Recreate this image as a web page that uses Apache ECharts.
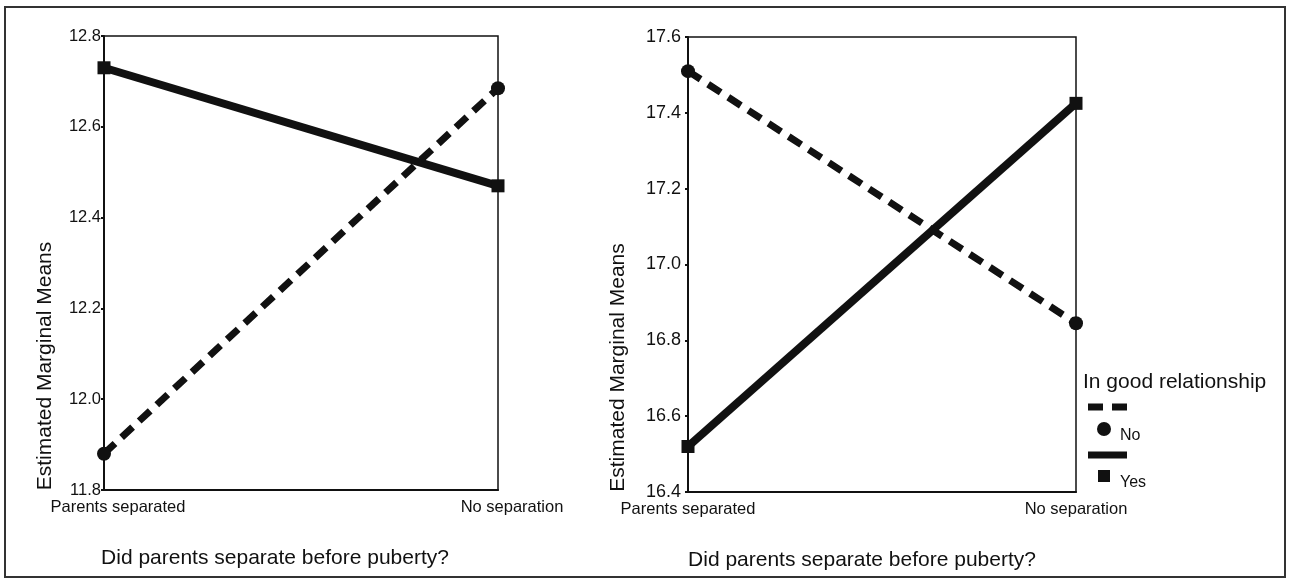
<!DOCTYPE html>
<html>
<head>
<meta charset="utf-8">
<script src="https://cdn.jsdelivr.net/npm/echarts@6/dist/echarts.min.js"></script>
<style>
  html, body { margin: 0; padding: 0; background: #fff; }
  #chart { width: 1290px; height: 580px; }
</style>
</head>
<body>
<div id="chart"></div>
<script>
// data
var categories = ['Parents separated', 'No separation'];
var leftNo = [11.88, 12.685];
var leftYes = [12.73, 12.47];
var rightNo = [17.51, 16.845];
var rightYes = [16.52, 17.425];
var leftRange = [11.8, 12.8];
var rightRange = [16.4, 17.6];
var tickStep = 0.2;
var seriesNames = ['No', 'Yes'];

var font = "'Liberation Sans', Arial, sans-serif";
var ink = '#111';

function xAxisFor(idx, labelPad, namePad) {
    return {
        type: 'category',
        gridIndex: idx,
        data: categories,
        boundaryGap: false,
        axisLine: { lineStyle: { color: ink, width: 2 } },
        axisTick: { show: false },
        axisLabel: { color: ink, fontSize: 16.5, fontFamily: font, margin: 9, padding: labelPad },
        name: 'Did parents separate before puberty?',
        nameLocation: 'middle',
        nameGap: 58,
        nameTextStyle: { color: ink, fontSize: 21, fontFamily: font, padding: namePad }
    }
}

function yAxisFor(idx, range, labelSize, labelMargin, nameGap) {
    return {
        type: 'value',
        gridIndex: idx,
        min: range[0],
        max: range[1],
        interval: tickStep,
        axisLine: { show: true, lineStyle: { color: ink, width: 2 } },
        axisTick: { show: true, length: 3, lineStyle: { color: ink, width: 2 } },
        splitLine: { show: false },
        axisLabel: {
            color: ink, fontSize: labelSize, fontFamily: font, margin: labelMargin,
            formatter: function (v) { return v.toFixed(1) }
        },
        name: 'Estimated Marginal Means',
        nameLocation: 'middle',
        nameGap: nameGap,
        nameTextStyle: { color: ink, fontSize: 21, fontFamily: font, padding: [0, 206, 0, 0] }
    }
}

function lineSeries(name, data, idx, dashed) {
    return {
        name: name,
        type: 'line',
        xAxisIndex: idx,
        yAxisIndex: idx,
        data: data,
        symbol: dashed ? 'circle' : 'rect',
        symbolSize: dashed ? 14 : 13,
        showSymbol: true,
        itemStyle: { color: ink },
        lineStyle: dashed
            ? { color: ink, width: 7, type: [15, 9] }
            : { color: ink, width: 8 },
        z: dashed ? 3 : 2
    }
}

var myChart = echarts.init(document.getElementById('chart'));
myChart.setOption({
    backgroundColor: '#fff',
    animation: false,
    grid: [
        { left: 104, top: 36, width: 394, height: 454, show: true, borderColor: ink, borderWidth: 1.5 },
        { left: 688, top: 37, width: 388, height: 455, show: true, borderColor: ink, borderWidth: 1.5 }
    ],
    xAxis: [
        xAxisFor(0, [0, 0, 0, 28], [0, 52, 0, 0]),
        xAxisFor(1, 0, [0, 40, 0, 0])
    ],
    yAxis: [
        yAxisFor(0, leftRange, 16.5, 3, 48),
        yAxisFor(1, rightRange, 18, 7, 59)
    ],
    series: [
        lineSeries(seriesNames[0], leftNo, 0, true),
        lineSeries(seriesNames[1], leftYes, 0, false),
        lineSeries(seriesNames[0], rightNo, 1, true),
        lineSeries(seriesNames[1], rightYes, 1, false)
    ],
    graphic: [
        // outer frame
        {
            type: 'rect', z: 0, silent: true,
            shape: { x: 5, y: 7, width: 1280, height: 570 },
            style: { fill: 'none', stroke: '#333', lineWidth: 2 }
        },
        // legend
        {
            type: 'group', left: 1083, top: 372, z: 10,
            children: [
                { type: 'text', x: 0, y: 0, style: { text: 'In good relationship', fill: ink, font: '21px ' + font } },
                { type: 'line', shape: { x1: 5, y1: 35, x2: 44, y2: 35 }, style: { stroke: ink, lineWidth: 7, lineDash: [15, 9] } },
                { type: 'circle', shape: { cx: 21, cy: 57, r: 7 }, style: { fill: ink } },
                { type: 'text', x: 37, y: 56, style: { text: seriesNames[0], fill: ink, font: '16px ' + font } },
                { type: 'line', shape: { x1: 5, y1: 83, x2: 44, y2: 83 }, style: { stroke: ink, lineWidth: 7 } },
                { type: 'rect', shape: { x: 15, y: 98, width: 12, height: 12 }, style: { fill: ink } },
                { type: 'text', x: 37, y: 103, style: { text: seriesNames[1], fill: ink, font: '16px ' + font } }
            ]
        }
    ]
});
window.addEventListener('resize', function () {
    myChart.resize()
});
</script>
</body>
</html>
